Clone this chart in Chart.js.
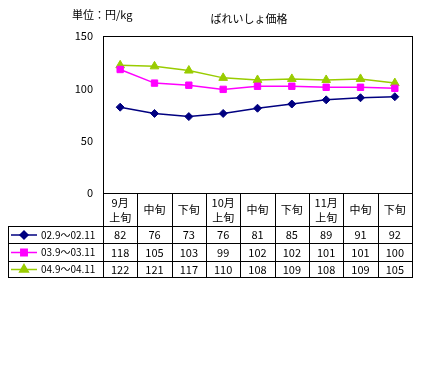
<!DOCTYPE html>
<html>
<head>
<meta charset="utf-8">
<script src="https://cdn.jsdelivr.net/npm/chart.js@4.4.0/dist/chart.umd.min.js"></script>
<style>
  html, body { margin: 0; padding: 0; background: #fff; }
  #wrap { width: 430px; height: 373px; }
</style>
</head>
<body>
<div id="wrap"><canvas id="c" width="430" height="373"></canvas></div>
<script>
// chart data
const categories = [['9月', '上旬'], ['中旬'], ['下旬'], ['10月', '上旬'], ['中旬'], ['下旬'], ['11月', '上旬'], ['中旬'], ['下旬']];
const seriesNames = ['02.9～02.11', '03.9～03.11', '04.9～04.11'];
const values2002 = [82, 76, 73, 76, 81, 85, 89, 91, 92];
const values2003 = [118, 105, 103, 99, 102, 102, 101, 101, 100];
const values2004 = [122, 121, 117, 110, 108, 109, 108, 109, 105];
const yTicks = [0, 50, 100, 150];

const FONT = '"Noto Sans CJK JP", "DejaVu Sans", sans-serif';
const colors = ['#000080', '#FF00FF', '#99CC00'];
const markers = ['rectRot', 'rect', 'triangle'];
const markerSize = [4, 4.5, 5];
const allValues = [values2002, values2003, values2004];

// draws the frame, title and data table below the plot
const tablePlugin = {
  id: 'dataTable',
  afterDraw: function(chart) {
    const ctx = chart.ctx;
    const area = chart.chartArea;
    const x = chart.scales.x;
    const step = (area.right - area.left) / categories.length;
    const headTop = area.bottom;
    const headBottom = 226;
    const rowH = [243, 261, 277];
    const tableLeft = 8;

    ctx.save();
    ctx.strokeStyle = '#000';
    ctx.lineWidth = 1;
    // plot frame
    ctx.strokeRect(Math.round(area.left) + 0.5, Math.round(area.top) + 0.5,
      Math.round(area.right - area.left), Math.round(area.bottom - area.top));

    ctx.beginPath();
    // vertical column lines
    for (let i = 0; i <= categories.length; i++) {
      const px = Math.round(area.left + i * step) + 0.5;
      ctx.moveTo(px, headTop);
      ctx.lineTo(px, rowH[2]);
    }
    ctx.moveTo(tableLeft + 0.5, headBottom);
    ctx.lineTo(tableLeft + 0.5, rowH[2]);
    // horizontal row lines
    [headBottom].concat(rowH).forEach(function(y) {
      ctx.moveTo(tableLeft, y + 0.5);
      ctx.lineTo(Math.round(area.right) + 1, y + 0.5);
    });
    ctx.stroke();

    // header text
    ctx.fillStyle = '#000';
    ctx.font = '11px ' + FONT;
    ctx.textAlign = 'center';
    ctx.textBaseline = 'middle';
    categories.forEach(function(lines, i) {
      const cx = x.getPixelForValue(i);
      if (lines.length === 2) {
        ctx.fillText(lines[0], cx, 203);
        ctx.fillText(lines[1], cx, 218);
      } else {
        ctx.fillText(lines[0], cx, 210);
      }
    });

    // value rows with legend keys
    let top = headBottom;
    allValues.forEach(function(vals, s) {
      const midY = (top + rowH[s]) / 2 + 0.5;
      ctx.font = '11px ' + FONT;
      vals.forEach(function(v, i) {
        ctx.fillStyle = '#000';
        ctx.textAlign = 'center';
        ctx.fillText(String(v), x.getPixelForValue(i), midY);
      });
      // legend key
      ctx.strokeStyle = colors[s];
      ctx.lineWidth = 1.5;
      ctx.beginPath();
      ctx.moveTo(11, midY);
      ctx.lineTo(37, midY);
      ctx.stroke();
      Chart.helpers.drawPoint(ctx, {
        pointStyle: markers[s], radius: markerSize[s], borderWidth: 1
      }, 24, midY);
      ctx.fillStyle = colors[s];
      ctx.fill();
      ctx.fillStyle = '#000';
      ctx.textAlign = 'left';
      ctx.font = '10px ' + FONT;
      ctx.fillText(seriesNames[s], 41, midY);
      top = rowH[s];
    });

    // title and unit
    ctx.fillStyle = '#000';
    ctx.font = '11px ' + FONT;
    ctx.textAlign = 'left';
    ctx.fillText('単位：円/kg', 72, 15);
    ctx.textAlign = 'center';
    ctx.fillText('ばれいしょ価格', 249, 19);
    ctx.restore();
  }
};

const datasets = allValues.map(function(vals, s) {
  return {
    label: seriesNames[s],
    data: vals,
    borderColor: colors[s],
    backgroundColor: colors[s],
    borderWidth: 1.5,
    pointStyle: markers[s],
    pointRadius: markerSize[s],
    pointBorderWidth: 1,
    tension: 0,
    fill: false
  };
});

new Chart(document.getElementById('c'), {
  type: 'line',
  data: { labels: categories.map(function(c) { return c.join(''); }), datasets: datasets },
  plugins: [tablePlugin],
  options: {
    responsive: false,
    animation: false,
    layout: { padding: { top: 36, right: 18, bottom: 180, left: 0 } },
    plugins: { legend: { display: false }, tooltip: { enabled: false } },
    scales: {
      x: { display: false, offset: true },
      y: {
        min: 0,
        max: 150,
        afterBuildTicks: function(scale) {
          scale.ticks = yTicks.map(function(v) { return { value: v }; });
        },
        afterFit: function(scale) { scale.width = 103; },
        grid: { display: false, drawTicks: false },
        border: { display: true, color: '#000', width: 1 },
        ticks: { color: '#000', padding: 10, font: { size: 11, family: FONT } }
      }
    }
  }
});
</script>
</body>
</html>
